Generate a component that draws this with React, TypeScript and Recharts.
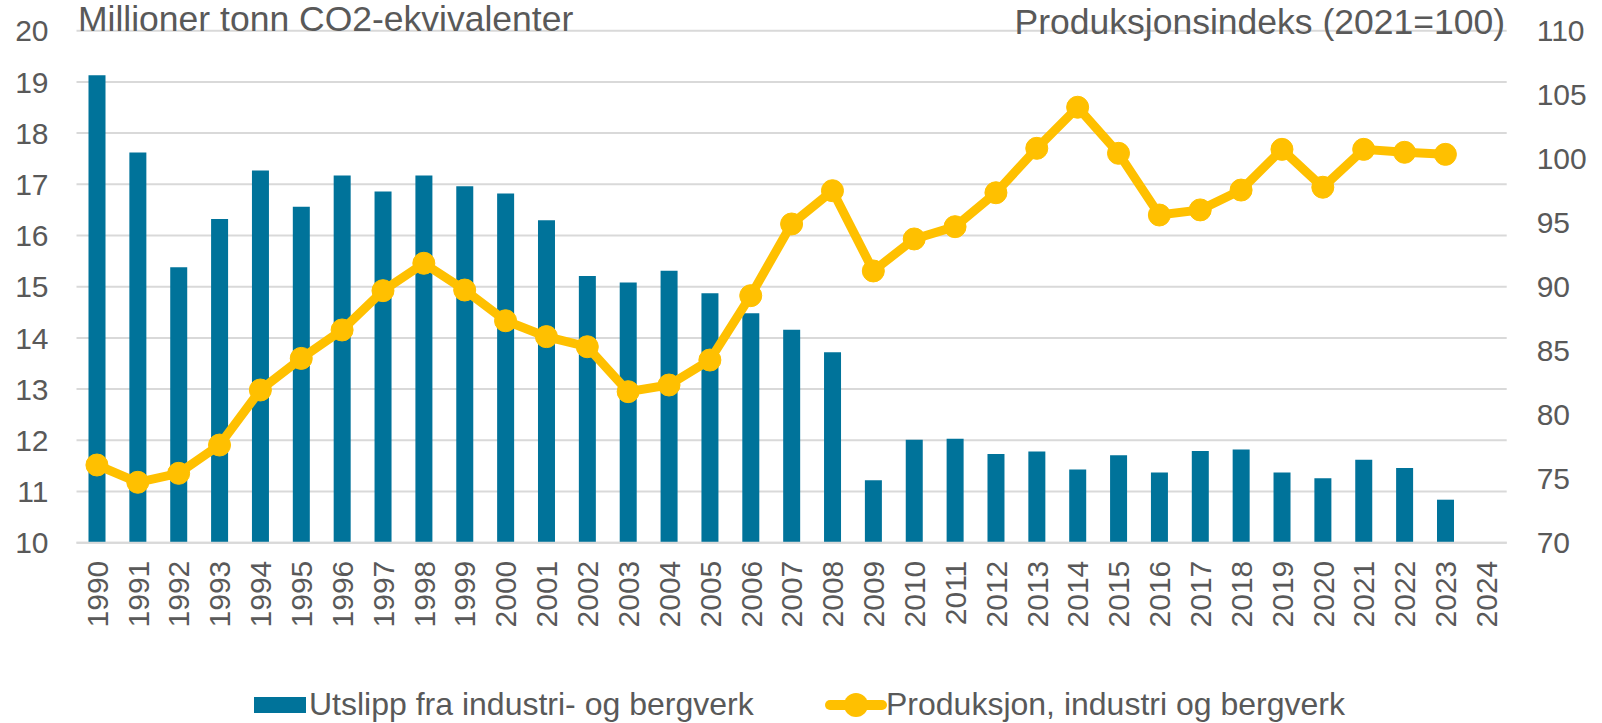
import { ComposedChart, Bar, Line, XAxis, YAxis, CartesianGrid } from 'recharts';

const years = [
  '1990', '1991', '1992', '1993', '1994', '1995', '1996', '1997', '1998', '1999',
  '2000', '2001', '2002', '2003', '2004', '2005', '2006', '2007', '2008', '2009',
  '2010', '2011', '2012', '2013', '2014', '2015', '2016', '2017', '2018', '2019',
  '2020', '2021', '2022', '2023', '2024',
];

// millioner tonn CO2-ekvivalenter
const utslipp = [
  19.13, 17.62, 15.38, 16.32, 17.27, 16.56, 17.17, 16.86, 17.17, 16.96,
  16.82, 16.3, 15.21, 15.08, 15.31, 14.87, 14.48, 14.16, 13.72, 11.22,
  12.01, 12.03, 11.73, 11.78, 11.43, 11.71, 11.37, 11.79, 11.82, 11.37,
  11.26, 11.62, 11.46, 10.84, null,
];

// produksjonsindeks, 2021=100
const produksjon = [
  76.07, 74.72, 75.42, 77.63, 81.93, 84.4, 86.62, 89.69, 91.83, 89.74,
  87.34, 86.1, 85.31, 81.8, 82.32, 84.27, 89.3, 94.9, 97.5, 91.23,
  93.73, 94.69, 97.34, 100.81, 104.02, 100.42, 95.6, 96.0, 97.55, 100.73,
  97.77, 100.73, 100.5, 100.34, null,
];

const leftTicks = [10, 11, 12, 13, 14, 15, 16, 17, 18, 19, 20];
const rightTicks = [70, 75, 80, 85, 90, 95, 100, 105, 110];

const BLUE = '#00739a';
const GOLD = '#ffc000';
const GREY = '#595959';
const FONT = '"Liberation Sans", Arial, sans-serif';

const data = years.map((year, i) => ({
  year,
  utslipp: utslipp[i],
  produksjon: produksjon[i],
}));

function YearTick({ x, y, payload }: any) {
  return (
    <text
      x={x}
      y={y}
      dy="0.36em"
      transform={`rotate(-90 ${x} ${y})`}
      textAnchor="end"
      fill={GREY}
      fontSize={30}
      fontFamily={FONT}
    >
      {payload.value}
    </text>
  );
}

export default function App() {
  return (
    <div style={{ position: 'absolute', left: 0, top: 0, width: 1602, height: 723, background: '#fff', fontFamily: FONT }}>
      <ComposedChart
        width={1602}
        height={723}
        data={data}
        margin={{ top: 30.7, right: 0.3, bottom: 120.3, left: 0.5 }}
      >
        <CartesianGrid vertical={false} stroke="#d9d9d9" strokeWidth={2} yAxisId="left" />
        <XAxis
          dataKey="year"
          height={60}
          tickSize={0}
          tickMargin={18}
          interval={0}
          tick={<YearTick />}
          axisLine={{ stroke: '#d9d9d9', strokeWidth: 2 }}
          tickLine={false}
        />
        <YAxis
          yAxisId="left"
          orientation="left"
          width={76}
          domain={[10, 20]}
          ticks={leftTicks}
          interval={0}
          tickSize={0}
          tickMargin={28}
          axisLine={false}
          tickLine={false}
          tick={{ fill: GREY, fontSize: 30, fontFamily: FONT }}
        />
        <YAxis
          yAxisId="right"
          orientation="right"
          width={95}
          domain={[70, 110]}
          ticks={rightTicks}
          interval={0}
          tickSize={0}
          tickMargin={30}
          axisLine={false}
          tickLine={false}
          tick={{ fill: GREY, fontSize: 30, fontFamily: FONT }}
        />
        <Bar
          yAxisId="left"
          dataKey="utslipp"
          fill={BLUE}
          barSize={17}
          isAnimationActive={false}
        />
        <Line
          yAxisId="right"
          dataKey="produksjon"
          stroke={GOLD}
          strokeWidth={9}
          dot={{ r: 11, fill: GOLD, stroke: GOLD, strokeWidth: 1 }}
          activeDot={false}
          isAnimationActive={false}
        />
      </ComposedChart>

      <div style={{ position: 'absolute', left: 78, top: 2, fontSize: 35.5, lineHeight: 1, color: GREY, whiteSpace: 'nowrap' }}>
        Millioner tonn CO2-ekvivalenter
      </div>
      <div style={{ position: 'absolute', right: 97, top: 5, fontSize: 35.5, lineHeight: 1, color: GREY, whiteSpace: 'nowrap' }}>
        Produksjonsindeks (2021=100)
      </div>

      <div style={{ position: 'absolute', left: 254, top: 697, width: 52, height: 16, background: BLUE }} />
      <div style={{ position: 'absolute', left: 309, top: 688, fontSize: 32, lineHeight: 1, color: GREY, whiteSpace: 'nowrap' }}>
        Utslipp fra industri- og bergverk
      </div>
      <svg style={{ position: 'absolute', left: 810, top: 685 }} width={90} height={40}>
        <line x1={20} y1={20} x2={72} y2={20} stroke={GOLD} strokeWidth={10} strokeLinecap="round" />
        <circle cx={46} cy={20} r={12} fill={GOLD} />
      </svg>
      <div style={{ position: 'absolute', left: 886, top: 688, fontSize: 32, lineHeight: 1, color: GREY, whiteSpace: 'nowrap' }}>
        Produksjon, industri og bergverk
      </div>
    </div>
  );
}
